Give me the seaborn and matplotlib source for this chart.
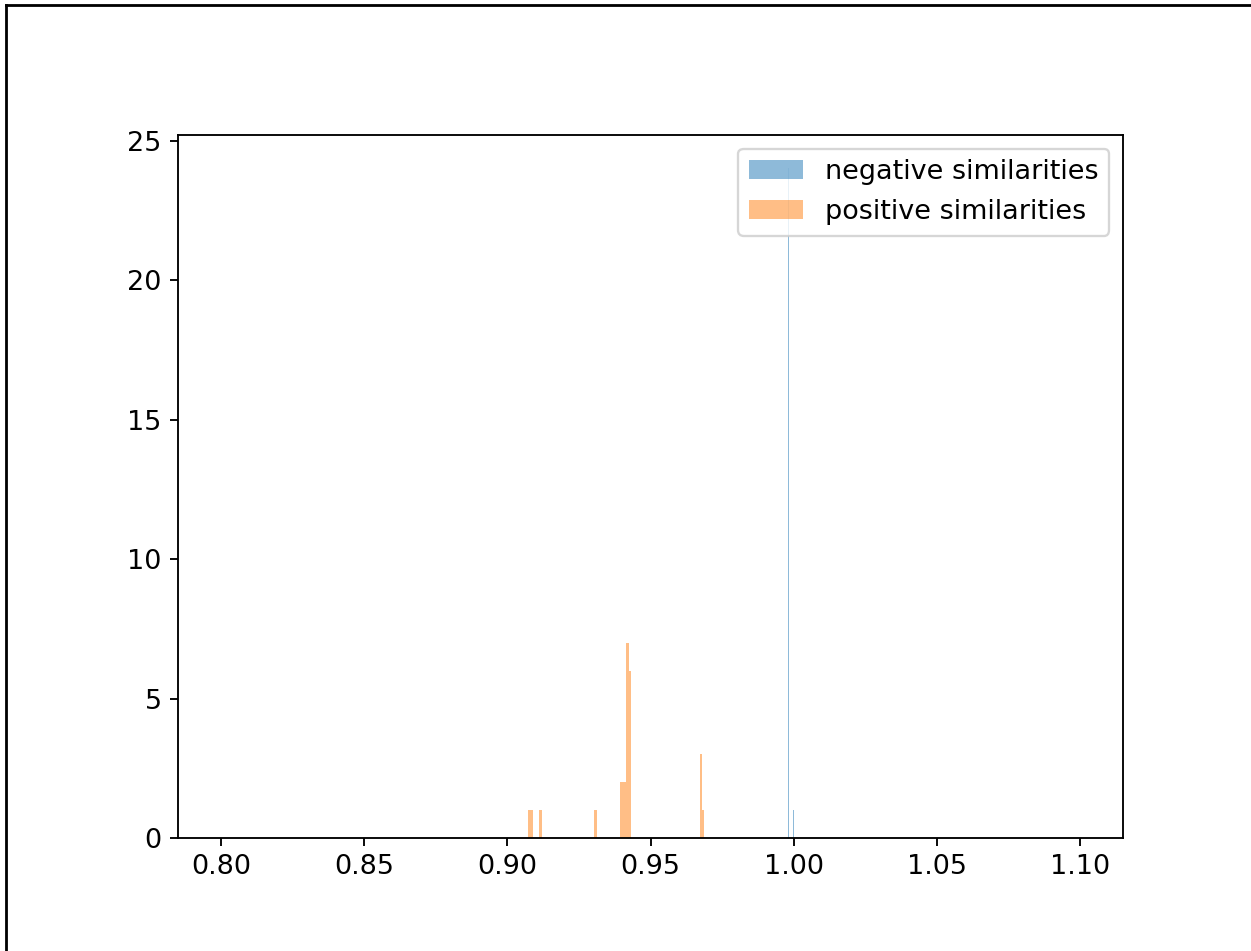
import numpy as np
import matplotlib
matplotlib.use("Agg")
import matplotlib.pyplot as plt
import seaborn as sns
from matplotlib.lines import Line2D

# ============================================================
# DATA  (bin centres and counts)
# ============================================================

BIN_RANGE = (0.8, 1.1)

neg_values = [0.99815, 0.99995]
neg_counts = [24, 1]

pos_values = [0.9076, 0.9084, 0.9116, 0.9308,
              0.9396, 0.9404, 0.9412, 0.9420, 0.9428,
              0.9676, 0.9684]
pos_counts = [1, 1, 1, 1,
              2, 2, 2, 7, 6,
              3, 1]

# ============================================================
# PLOT
# ============================================================

plt.rcParams['font.size'] = 11.6

fig = plt.figure(figsize=(1251 / 168, 951 / 168), dpi=168)
ax = fig.add_axes([178 / 1251, 1 - 838 / 951, (1123 - 178) / 1251, (838 - 135) / 951])

sns.histplot(x=neg_values, weights=neg_counts, binwidth=0.0003, binrange=BIN_RANGE,
             color='C0', alpha=0.5, linewidth=0, ax=ax, label='negative similarities')
sns.histplot(x=pos_values, weights=pos_counts, binwidth=0.0008, binrange=BIN_RANGE,
             color='C1', alpha=0.5, linewidth=0, ax=ax, label='positive similarities')

ax.set_xlim(0.785, 1.115)
ax.set_xticks(np.arange(0.80, 1.101, 0.05))
ax.set_ylabel('')
ax.set_xlabel('')
ax.legend(loc='upper right')

# screenshot frame on left and top edges
fig.add_artist(Line2D([0.005, 0.005], [0, 0.995], transform=fig.transFigure, color='black', linewidth=1.2))
fig.add_artist(Line2D([0.005, 1.0], [0.995, 0.995], transform=fig.transFigure, color='black', linewidth=1.2))

fig.savefig('out.png', dpi=168)
